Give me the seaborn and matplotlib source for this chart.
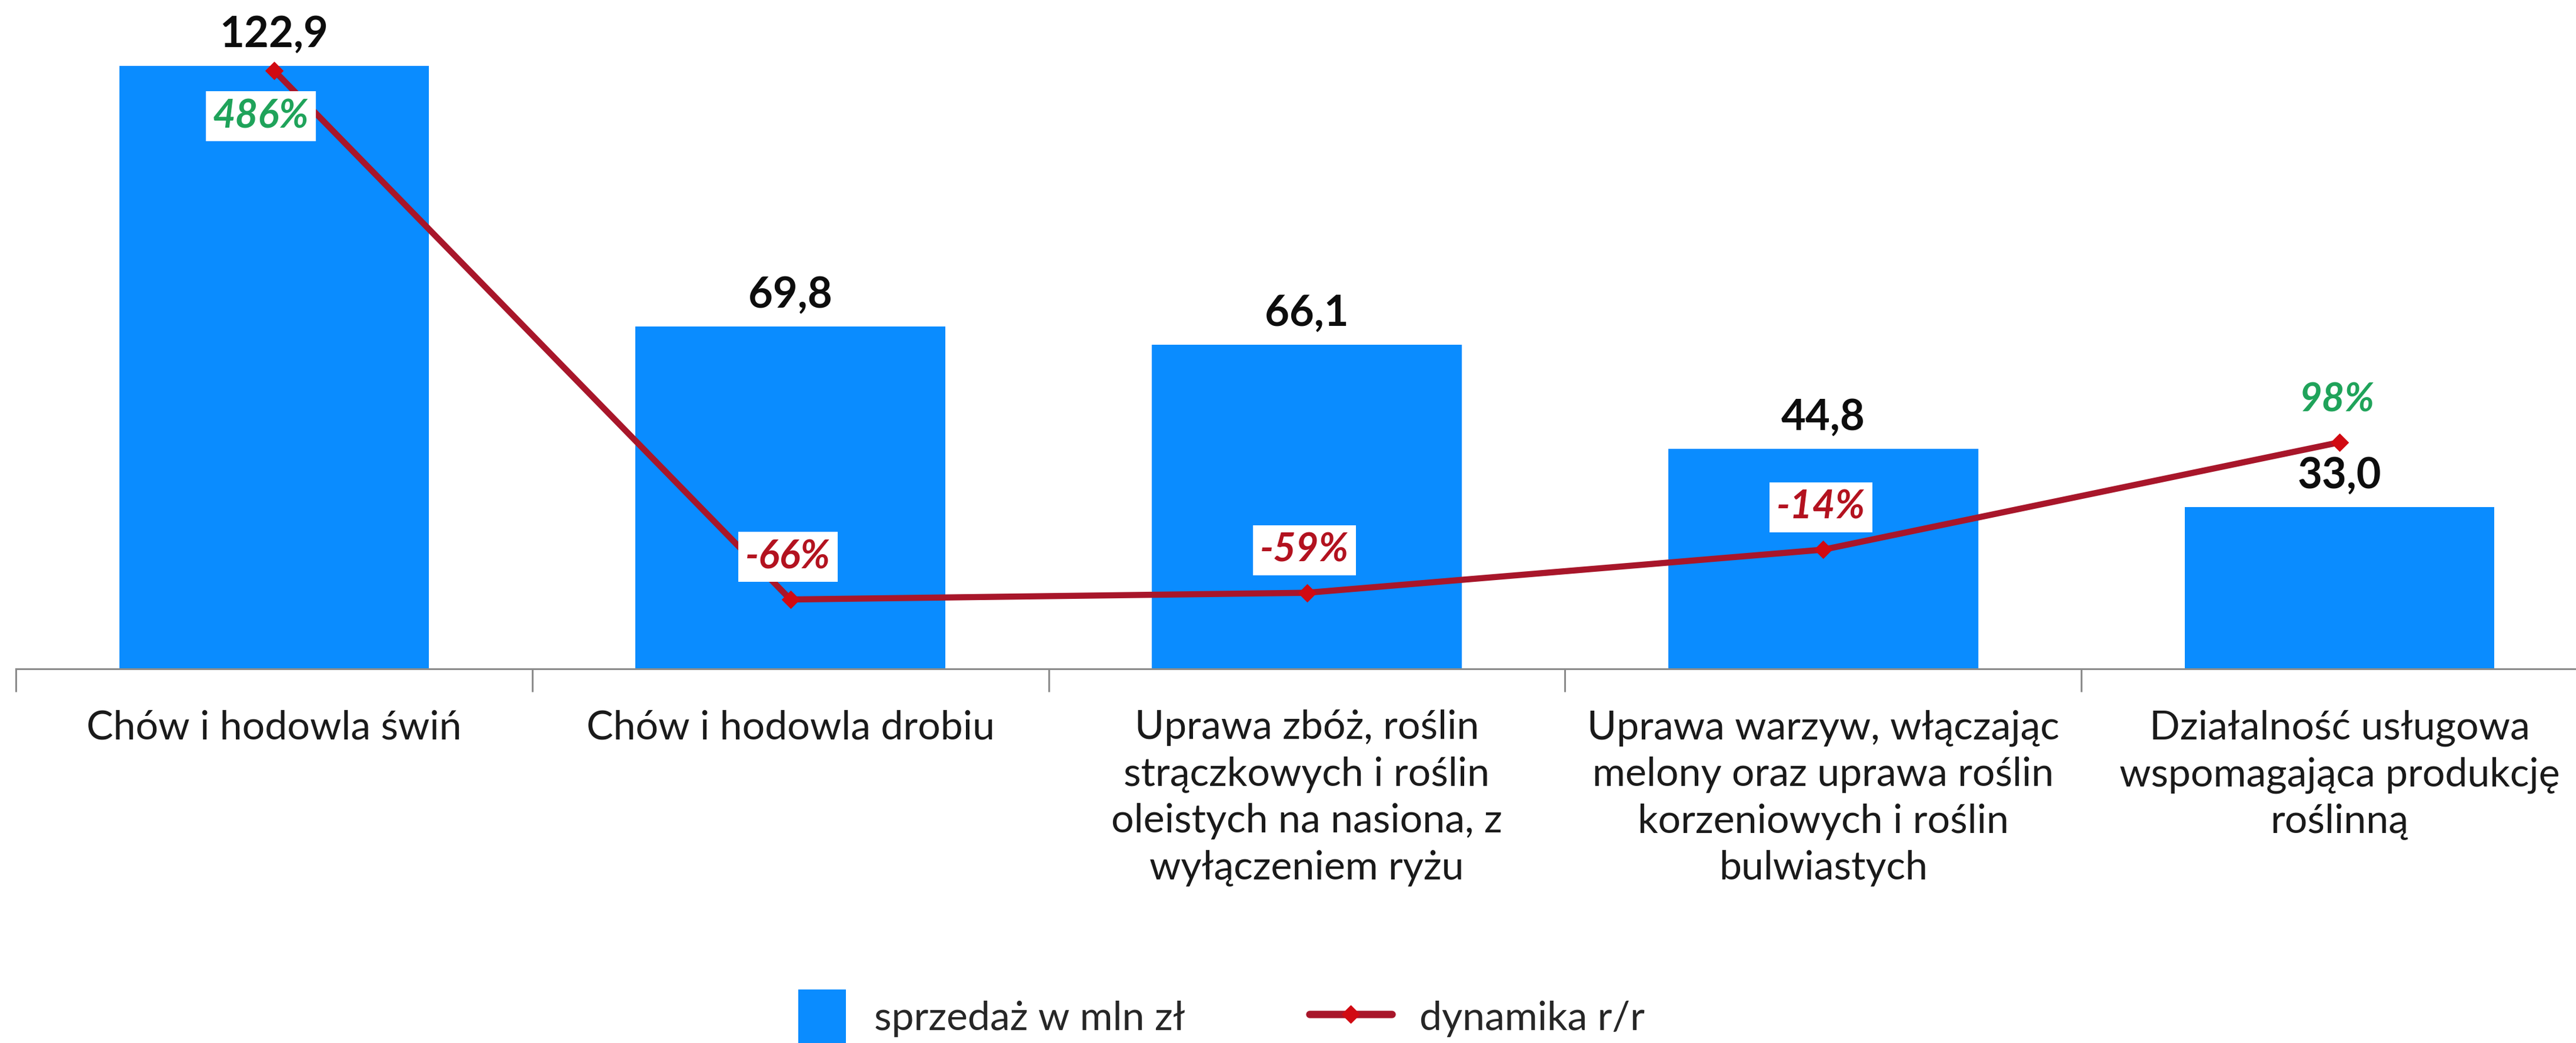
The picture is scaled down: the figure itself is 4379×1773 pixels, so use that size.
import numpy as np
import pandas as pd
import matplotlib
matplotlib.use("Agg")
import matplotlib.pyplot as plt
import seaborn as sns
from matplotlib.patches import Patch, Rectangle
from matplotlib.lines import Line2D
from matplotlib.legend_handler import HandlerPatch

categories = [
    "Chów i hodowla świń",
    "Chów i hodowla drobiu",
    "Uprawa zbóż, roślin\nstrączkowych i roślin\noleistych na nasiona, z\nwyłączeniem ryżu",
    "Uprawa warzyw, włączając\nmelony oraz uprawa roślin\nkorzeniowych i roślin\nbulwiastych",
    "Działalność usługowa\nwspomagająca produkcję\nroślinną",
]
sales = [122.9, 69.8, 66.1, 44.8, 33.0]
dynamics = [486, -66, -59, -14, 98]
sales_labels = ["122,9", "69,8", "66,1", "44,8", "33,0"]
dyn_labels = ["486%", "-66%", "-59%", "-14%", "98%"]
series_names = ["sprzedaż w mln zł", "dynamika r/r"]

BAR = "#0A8CFF"
LINE = "#A8162A"
MARK = "#D10A12"
GREEN = "#1FA35A"
RED = "#B3121F"
AXIS = "#8C8C8C"

sns.set_theme(style="white")
plt.rcParams["font.family"] = ["Lato", "DejaVu Sans"]

W, H = 4379, 1773
fig = plt.figure(figsize=(W / 100, H / 100), dpi=100)
base_px = 1137
left_px = 27
right_px = 4416
ax = fig.add_axes([left_px / W, 1 - base_px / H, (right_px - left_px) / W, base_px / H])

df = pd.DataFrame({"cat": categories, "sales": sales})
sns.barplot(data=df, x="cat", y="sales", ax=ax, color=BAR, width=0.6,
            saturation=1, edgecolor="none", zorder=2)
ax.set_xlim(-0.5, 4.5)
ax.set_ylim(0, 136.3)

ax2 = ax.twinx()
sns.lineplot(x=np.arange(len(dynamics)), y=dynamics, ax=ax2, color=LINE,
             linewidth=7.5, marker="D", markersize=15, markerfacecolor=MARK,
             markeredgecolor=MARK, zorder=3)
ax2.set_ylim(-138.4, 559.6)
ax2.set_xlim(-0.5, 4.5)

for a in (ax, ax2):
    for s in ("top", "right", "left"):
        a.spines[s].set_visible(False)
    a.set_yticks([])
    a.set_ylabel("")
    a.set_xlabel("")
ax2.spines["bottom"].set_visible(False)
ax.spines["bottom"].set_color(AXIS)
ax.spines["bottom"].set_linewidth(2.2)

ax.set_xticks(np.arange(len(categories)))
ax.set_xticklabels(categories, fontsize=49, color="#1a1a1a", linespacing=1.35)
ax.tick_params(axis="x", which="major", length=0, pad=50)
ax.set_xticks(np.arange(-0.5, len(categories)), minor=True)
ax.tick_params(axis="x", which="minor", bottom=True, length=28, width=2.2,
               color=AXIS, direction="out")

for i, (v, t) in enumerate(zip(sales, sales_labels)):
    ax.annotate(t, (i, v), xytext=(0, 38), textcoords="offset points",
                ha="center", va="center", fontsize=52, fontweight="bold",
                color="#0d0d0d", zorder=5)

for i, (v, t) in enumerate(zip(dynamics, dyn_labels)):
    col = GREEN if v > 0 else RED
    if i == 0:
        off = (-16, -56)
    else:
        off = (-3, 52)
    ax2.annotate(t, (i, v), xytext=off, textcoords="offset points",
                 ha="center", va="center", fontsize=48, fontweight="bold",
                 fontstyle="italic", color=col, zorder=6,
                 bbox=dict(boxstyle="square,pad=0.18", facecolor="white",
                           edgecolor="none"))


def narrow_patch(legend, orig_handle, xdescent, ydescent, width, height, fontsize):
    return Rectangle((-xdescent + 0.42 * width, -ydescent - 0.25 * height),
                     0.58 * width, 1.5 * height)


handles = [Patch(facecolor=BAR, edgecolor="none"),
           Line2D([0], [0], color=LINE, linewidth=9, marker="D", markersize=15,
                  markerfacecolor=MARK, markeredgecolor=MARK)]
fig.legend(handles, series_names, loc="center", bbox_to_anchor=(0.4675, 0.024),
           ncol=2, frameon=False, fontsize=49, handlelength=2.06, handleheight=1.0,
           columnspacing=3.1, handletextpad=0.7,
           handler_map={Patch: HandlerPatch(patch_func=narrow_patch)})

fig.savefig("out.png", dpi=100)
